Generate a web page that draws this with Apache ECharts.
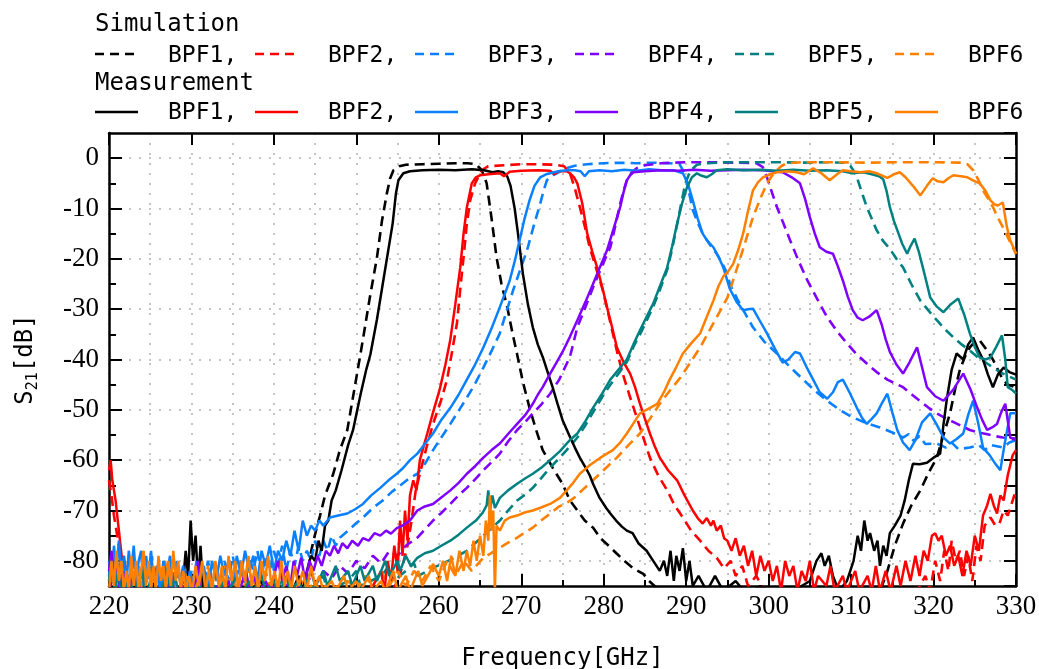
<!DOCTYPE html>
<html><head><meta charset="utf-8">
<script src="https://cdn.jsdelivr.net/npm/echarts@6/dist/echarts.min.js"></script>
<style>html,body{margin:0;padding:0;background:#fff}#c{width:1039px;height:669px}</style>
</head><body><div id="c"></div><script>
// ---- tick labels / axis ranges ----
const xMin = 220, xMax = 330, xStep = 10;
const yMin = -85, yMax = 5;
const yMajorTicks = [0, -10, -20, -30, -40, -50, -60, -70, -80];
const yMinorTicks = [-5, -15, -25, -35, -45, -55, -65, -75];
const xTitle = 'Frequency[GHz]';
const legendNames = ['BPF1,', 'BPF2,', 'BPF3,', 'BPF4,', 'BPF5,', 'BPF6'];
const colors = ['#000000', '#ff0000', '#0a80ff', '#8000ff', '#008080', '#ff8000'];

// ---- Simulation (dashed) ----
const sim1 = [[243.5,-88],[244,-84],[244.4,-79],[244.8,-76],[245.2,-73.4],[245.6,-71],[246.2,-67],[247.2,-62.7],[248,-58],[248.9,-54],[249.8,-45.5],[250.8,-36],[251.6,-28],[252.5,-19.7],[253.1,-12.5],[253.7,-7],[254.1,-4],[254.5,-2.4],[255.2,-1.6],[256,-1.3],[258,-1.2],[260,-1.1],[262,-1.0],[263.5,-1.0],[264.5,-1.2],[265.1,-2.2],[265.5,-3.5],[265.8,-5],[266.4,-12],[267,-19.7],[267.6,-25],[268.3,-29.6],[268.9,-34.5],[269.5,-39],[270.2,-44.5],[271,-49.6],[271.8,-54],[272.6,-58],[273.8,-61.5],[275,-64.7],[275.9,-68],[276.8,-70],[277.7,-72],[278.7,-73.4],[279.6,-75.5],[280.6,-77],[281.6,-78.6],[282.5,-80],[283.6,-81.5],[284.8,-82.6],[285.5,-84],[286.5,-85.5],[288,-87],[300,-88],[310,-88],[313.5,-86],[314.3,-82.6],[315.3,-77],[316.3,-72.6],[317.3,-69],[318.4,-66],[319.4,-62.5],[320.4,-59.5],[321.2,-55],[322,-50.7],[322.6,-46],[323.2,-42],[323.8,-39.5],[324.4,-37.6],[325,-36.5],[325.6,-36.2],[326.4,-38],[327.2,-40],[327.8,-42],[328.4,-44],[329,-45],[330,-45.5]];
const sim2 = [[220,-64],[220.3,-67],[220.6,-71],[221,-75],[221.4,-79],[221.8,-82],[222.3,-86],[223,-88],[250,-88],[254,-87],[255,-84],[255.6,-81],[256.2,-77],[256.7,-72],[257.2,-66],[257.7,-62.7],[258.5,-57.5],[259.3,-52.8],[260.2,-48.5],[261,-44],[261.6,-38.5],[262.2,-32.8],[262.6,-26],[263,-19.7],[263.4,-13],[263.8,-8.4],[264.4,-5],[265.2,-2.4],[266,-1.6],[268,-1.4],[270,-1.2],[272,-1.2],[274,-1.3],[275.2,-1.6],[275.9,-3],[276.5,-6],[277.1,-9.7],[277.7,-13.5],[278.3,-17.7],[279.1,-22],[279.9,-26.3],[280.5,-30.5],[281.1,-34.8],[281.7,-39],[282.3,-42.8],[283.1,-47],[284,-51.5],[284.8,-55.5],[285.6,-59.5],[286.6,-63],[287.7,-66],[288.6,-69],[289.6,-71.4],[290.6,-74],[291.7,-76],[292.7,-78],[293.7,-79.4],[294.6,-81.5],[295.4,-80],[296,-83],[296.8,-81],[297.5,-85],[298.5,-83],[299.5,-86],[301,-88],[315,-88],[318,-86],[319,-83],[319.6,-86],[320.2,-80],[320.8,-84],[321.3,-78],[321.8,-82],[322.2,-76],[322.7,-80],[323.2,-78],[323.7,-83],[324.2,-79],[324.7,-84],[325.2,-77],[325.7,-80],[326.2,-73],[326.9,-71.4],[327.5,-73],[328,-72.6],[328.5,-70],[329,-71],[329.6,-68],[330,-66]];
const sim3 = [[220,-83],[220.4,-79],[220.8,-85],[221.2,-80],[221.6,-86],[222,-81],[222.4,-84],[222.8,-79],[223.2,-85],[223.6,-81],[224,-86],[224.4,-80],[224.8,-84],[225.2,-79],[225.6,-85],[226,-82],[226.4,-86],[226.8,-81],[227.2,-84],[227.6,-80],[228,-86],[228.4,-82],[228.8,-85],[229.2,-81],[229.6,-86],[230,-82],[230.5,-86],[231,-81],[231.5,-85],[232,-80],[232.5,-84],[233,-81],[233.5,-86],[234,-80],[234.5,-84],[235,-79],[235.5,-83],[236,-80],[236.5,-85],[237,-79],[237.5,-82],[238,-78],[238.5,-83],[239,-79],[239.5,-82],[240,-78],[240.5,-81],[241,-77],[241.5,-82],[242,-78],[242.5,-81],[243,-77],[243.5,-80],[244,-78],[244.5,-80],[245,-76],[245.5,-79],[246,-76],[246.5,-78],[247,-75],[247.5,-77],[248,-75.4],[249,-74],[250,-72.5],[250.8,-71.4],[252,-69.5],[253.2,-68],[254.3,-66.3],[255.5,-64.8],[256.5,-63.5],[257.4,-62.7],[258.4,-60.5],[259.3,-58],[260.3,-55.5],[261.4,-52.8],[262.4,-50.2],[263.4,-47.6],[264.4,-44.8],[265.4,-41.6],[266.4,-38.3],[267.4,-34.8],[268.2,-30.5],[269,-26.3],[269.8,-22.5],[270.7,-18.3],[271.5,-13.5],[272.3,-9],[272.7,-6.5],[273.1,-4.4],[273.7,-3.5],[274.3,-3],[275,-2.4],[275.5,-2],[276.5,-1.5],[278,-1.2],[280,-1.0],[282,-0.9],[284,-1.0],[286,-0.9],[288,-1.0],[289.2,-1.2],[289.8,-3],[290.3,-6.5],[290.8,-10.3],[291.4,-12.8],[292,-15],[292.8,-17],[293.7,-19],[294.4,-21],[295,-23],[295.3,-25],[296.2,-28],[297.2,-31],[298.1,-33.6],[299.5,-36.5],[301,-38.8],[302.6,-41.5],[304.2,-44],[305.6,-46.2],[307.1,-48.2],[308.6,-50],[310.2,-51.5],[311.8,-52.6],[313.5,-53.5],[315,-54.5],[316.3,-55.5],[317,-54.8],[317.6,-56.2],[318.3,-55.2],[319,-56.8],[320.4,-56.7],[321.5,-57.5],[322.2,-56.5],[323,-57.8],[324.4,-57.5],[325.5,-57],[326.2,-58],[327,-57],[328.4,-57.5],[329.2,-56.5],[330,-56]];
const sim4 = [[220,-86],[220.5,-83],[221,-87],[222,-85],[222.5,-88],[225,-86],[226,-88],[230,-86],[231,-88],[235,-86],[236,-88],[240,-85],[240.5,-87],[242,-84],[242.5,-86],[244,-83],[245,-85],[246,-82],[247,-83.5],[248,-81],[249,-82.5],[250,-80],[251,-81.5],[252,-79],[253,-80.5],[254,-78],[255,-79],[256,-77],[257.4,-75.4],[258.3,-73.8],[259.3,-72],[260.3,-70.5],[261.4,-68.7],[262.4,-67],[263.4,-65.5],[264.4,-63.8],[265.4,-62],[266.4,-60.4],[267.4,-58.7],[268.4,-56.3],[269.5,-54],[270.5,-52.4],[271.4,-50.7],[272.5,-48.8],[273.5,-46.8],[274.6,-44],[275.9,-39.5],[276.8,-33.6],[277.8,-29.5],[278.7,-25.7],[279.7,-21.8],[280.8,-17.7],[281.4,-13.5],[282,-9],[282.4,-6.5],[282.8,-4.4],[283.4,-2.8],[284,-2],[285,-1.4],[287,-1.0],[290,-0.8],[293,-0.8],[296,-0.9],[298.5,-1.0],[299.3,-1.8],[299.8,-3.8],[300.4,-6.8],[301,-9.7],[301.8,-13],[302.6,-16.3],[303.6,-20.3],[304.7,-24.3],[305.9,-28],[307.1,-31.6],[308.3,-34.4],[309.5,-36.8],[310.7,-39],[311.9,-40.8],[313.1,-42.5],[314.4,-44],[315.4,-44.8],[316.3,-45.5],[317.4,-47],[318.4,-48.3],[319.4,-49.6],[320.4,-50.7],[321.6,-51.8],[322.5,-52.5],[323.5,-53.3],[324.4,-54],[325.4,-54.5],[326.4,-54.8],[327.4,-55.2],[328.4,-55.5],[330,-55.7]];
const sim5 = [[220,-87],[221,-85],[221.5,-88],[224,-86],[225,-88],[230,-87],[233,-85],[233.5,-88],[240,-86],[241,-84],[241.5,-87],[245,-85],[246,-83],[246.5,-86],[249,-84],[250,-82],[250.5,-85],[253,-83],[254,-81],[254.5,-84],[256,-82],[257,-80.5],[257.5,-83],[259.3,-81.4],[261.4,-79.8],[263.4,-78],[265.4,-75],[267.4,-72],[268.4,-70],[269.5,-68],[270.5,-66.8],[271.4,-65.5],[272.5,-63.4],[273.5,-61.5],[274.5,-59.8],[275.5,-58],[276.8,-55.5],[277.8,-53],[278.7,-50.5],[279.8,-47.5],[280.8,-45],[281.8,-42.8],[282.8,-40.5],[283.6,-37.5],[284.4,-35],[285.2,-32.3],[286,-29.5],[286.8,-26.2],[287.7,-22.2],[288.3,-18],[288.9,-13.2],[289.4,-9],[289.9,-5],[290.5,-2.5],[291.3,-1.3],[292.5,-1.0],[295,-0.8],[298,-0.8],[301,-0.8],[304,-0.9],[307,-0.8],[309.2,-0.9],[309.9,-1.5],[310.3,-2.5],[310.7,-3.8],[311.3,-6.8],[311.9,-9.7],[312.5,-12],[313.1,-14.3],[313.9,-16.5],[314.7,-18],[315.5,-20],[316.3,-21.7],[317.3,-25],[318.4,-28.3],[319.4,-30.3],[320.4,-32.2],[321.4,-34],[322.4,-35.6],[323.4,-37],[324.4,-38.2],[325.4,-39.6],[326.5,-40.8],[327.4,-41.8],[328.4,-42.8],[330,-44]];
const sim6 = [[220,-84],[220.4,-80],[220.8,-86],[221.2,-81],[221.6,-85],[222,-80],[222.4,-86],[222.8,-82],[223.2,-85],[223.6,-81],[224,-86],[224.4,-82],[224.8,-86],[225.2,-81],[225.6,-85],[226,-82],[226.4,-86],[226.8,-80],[227.2,-84],[227.6,-81],[228,-86],[228.4,-82],[228.8,-85],[229.2,-81],[229.6,-86],[230,-83],[230.5,-86],[231,-82],[231.5,-86],[232,-81],[232.5,-85],[233,-82],[233.5,-86],[234,-81],[234.5,-85],[235,-82],[235.5,-86],[236,-82],[236.5,-85],[237,-81],[237.5,-86],[238,-83],[238.5,-86],[239,-82],[239.5,-85],[240,-83],[241,-86],[241.5,-83],[242.5,-86],[243,-83],[244,-86],[245,-84],[245.5,-86],[247,-84],[248,-86],[249,-84],[250,-86],[251,-83],[252,-85],[253,-82],[254,-85],[255,-82],[256,-85],[257,-82],[258,-84],[259,-81],[260,-84],[261,-80],[262,-83],[263,-80],[264,-82],[265.4,-79.4],[266.4,-78.4],[267.4,-77.4],[268.4,-76.4],[269.5,-75.4],[270.4,-74.4],[271.4,-73.4],[272.4,-72],[273.5,-70.6],[274.5,-69.3],[275.5,-68.5],[276.4,-67.5],[277.5,-65.8],[278.7,-64],[280.1,-61.8],[281.6,-59.5],[283,-57],[284.4,-54.7],[285.6,-51.8],[286.8,-48.8],[288,-46.2],[289.3,-43.6],[290.5,-40.6],[291.7,-37.6],[292.7,-34.6],[293.7,-31.6],[294.4,-29.5],[295,-27.7],[295.6,-24.7],[296.2,-21.7],[297.2,-16.5],[298.1,-11.7],[299,-8],[299.8,-5],[300.4,-3.5],[301,-2.4],[301.6,-1.5],[302.2,-1.0],[304,-0.8],[308,-0.8],[312,-0.9],[316,-0.8],[320,-0.8],[323.5,-0.9],[324.1,-1.2],[324.8,-2.4],[325.4,-4.2],[326,-6.4],[326.6,-8],[327.2,-9.7],[327.8,-11.8],[328.4,-13.7],[329,-15.7],[329.6,-17.7],[330,-19]];

// ---- Measurement (solid) ----
const meas1 = [[220,-87],[222,-88],[225,-86],[226,-83],[226.5,-87],[228,-88],[229,-84],[229.3,-78],[229.6,-83],[229.9,-72],[230.2,-80],[230.5,-75],[230.8,-84],[231.1,-77],[231.4,-85],[232,-88],[235,-87],[237,-86],[238.5,-84],[239,-87],[241,-88],[242.5,-85],[243,-83],[243.5,-86],[244,-82],[244.5,-79],[245,-80],[245.4,-76],[245.8,-78],[246.2,-73],[246.6,-72],[247,-68],[247.5,-66],[248.2,-62],[249,-57],[249.6,-54],[250.5,-47],[251.2,-42],[251.7,-39],[252.5,-32],[253.2,-25],[253.8,-19],[254.4,-13],[254.8,-7],[255.1,-4.4],[255.7,-3],[256.5,-2.6],[258,-2.4],[260,-2.3],[262,-2.4],[264,-2.2],[265.5,-2.4],[266.5,-2.8],[267.2,-2.6],[267.8,-2.8],[268.3,-3.6],[268.7,-5.5],[269.2,-10],[269.6,-15],[270.2,-23],[270.8,-29],[271.4,-33.6],[272,-37],[272.6,-39.5],[273.2,-42.5],[273.8,-45.5],[274.4,-48.8],[275,-52],[275.8,-55],[276.5,-57.5],[277.1,-59.5],[277.8,-61.5],[278.3,-63],[278.7,-64.7],[279.5,-67.5],[280.3,-69.5],[280.8,-70.6],[281.5,-72],[282.2,-73.2],[282.8,-74],[283.5,-74.5],[284.2,-76.5],[285.2,-78],[286,-80],[286.8,-82],[287.3,-80],[287.7,-83],[288.1,-78],[288.5,-84],[288.8,-79],[289.2,-82],[289.6,-77.5],[290,-84],[290.4,-80],[290.8,-85],[291.5,-83],[292.5,-86],[293.5,-83],[294.5,-86],[296,-84],[297.5,-87],[299,-85],[301,-87],[303,-86],[305,-84],[305.8,-80],[306.4,-78.5],[306.8,-81],[307.3,-79],[307.8,-83],[308.5,-86],[309.5,-84],[310.3,-80],[310.8,-75],[311.2,-78],[311.6,-72],[312,-76],[312.3,-74.5],[312.8,-78],[313.2,-76],[313.5,-81],[313.9,-77],[314.3,-79],[314.7,-74.5],[315.3,-73],[316,-71],[316.5,-68],[317,-64],[317.5,-60.7],[318.3,-60.8],[319.2,-60.5],[320,-59.5],[320.8,-58.7],[321.2,-53],[321.6,-48],[322.2,-42],[322.8,-38.8],[323.6,-40],[324.2,-37],[324.8,-35.6],[325.4,-38],[326,-40],[326.6,-43],[327.2,-45.5],[327.8,-43],[328.5,-41.6],[329.2,-42.5],[330,-43]];
const meas2 = [[220,-62],[220.2,-60],[220.4,-64],[220.6,-66],[220.8,-68],[221,-71],[221.2,-74],[221.4,-77],[221.6,-80],[221.8,-79],[222.1,-83],[222.5,-86],[224,-88],[235,-88],[245,-87],[248,-86],[250,-87],[252,-85],[253,-82],[253.4,-86],[253.8,-80],[254.2,-84],[254.6,-77],[255,-82],[255.3,-72],[255.6,-79],[255.9,-70],[256.2,-76],[256.5,-67],[256.9,-64],[257.3,-66],[257.7,-60],[258.2,-57],[258.6,-54.7],[259.3,-50.5],[260.1,-46],[260.8,-41],[261.4,-36],[262,-29],[262.6,-21.7],[263,-15],[263.4,-9.8],[264,-5],[264.5,-3.8],[265,-3.4],[266,-3.2],[267.4,-3],[267.9,-3.6],[268.6,-2.7],[270,-2.5],[272,-2.4],[273.5,-2.5],[274,-3.2],[274.5,-2.6],[275.5,-2.6],[275.9,-3],[276.4,-3.8],[276.8,-5],[277.4,-9],[278,-15],[278.6,-18.5],[279.2,-21.7],[279.8,-25.5],[280.4,-29.6],[281,-33.5],[281.6,-37.6],[282.4,-40.5],[283.2,-42.8],[283.8,-45.5],[284.4,-48.8],[285,-51.8],[285.6,-54.7],[286.2,-57.3],[286.8,-59.5],[287.8,-62],[288.9,-64],[289.8,-67],[290.8,-70],[291.4,-71.5],[292,-72.6],[292.5,-71.5],[293,-73],[293.3,-72],[293.7,-74],[294.2,-73],[294.6,-75.5],[295,-76],[295.5,-78],[296,-75.5],[296.5,-79],[297,-77],[297.5,-81],[298,-78],[298.5,-83],[299,-79],[299.5,-82],[300,-80],[300.5,-84],[301,-81],[301.5,-86],[302,-80],[302.5,-83],[303,-81],[303.5,-86],[304,-82],[304.5,-84],[305,-80],[305.5,-86],[306,-83],[307,-85],[307.5,-81],[308,-86],[309,-83],[309.5,-86],[310.5,-82],[311,-86],[312,-83],[312.5,-86],[313,-81],[313.5,-86],[314.2,-82],[314.8,-86],[315.5,-81],[316,-85],[316.6,-80],[317.2,-84],[317.8,-79],[318.3,-83],[318.8,-78],[319.3,-80],[319.8,-75],[320.2,-74.5],[320.6,-76],[321,-75],[321.5,-79],[322,-77],[322.5,-81],[323,-79],[323.5,-83],[324,-78],[324.5,-81],[325,-75],[325.5,-78],[326,-71],[326.5,-69],[326.9,-66.7],[327.3,-69],[327.7,-70.6],[328.1,-67],[328.5,-68],[329,-63],[329.6,-59],[330,-58]];
const meas3 = [[220,-80],[220.3,-84],[220.6,-77],[220.9,-82],[221.2,-76],[221.5,-83],[221.8,-79],[222.1,-85],[222.4,-78],[222.7,-82],[223,-77],[223.3,-84],[223.6,-80],[223.9,-78],[224.2,-85],[224.5,-79],[224.8,-83],[225.1,-78],[225.4,-84],[225.8,-81],[226.2,-86],[226.6,-80],[227,-83],[227.4,-79],[227.8,-85],[228.2,-80],[228.6,-84],[229,-81],[229.4,-86],[229.8,-82],[230.2,-85],[230.6,-80],[231,-84],[231.5,-81],[232,-86],[232.5,-80],[233,-84],[233.5,-79],[234,-83],[234.5,-80],[235,-85],[235.5,-79],[236,-83],[236.5,-78],[237,-82],[237.5,-79],[238,-84],[238.5,-78],[239,-81],[239.5,-77],[240,-82],[240.5,-78],[241,-80],[241.5,-76],[242,-79],[242.5,-74],[243,-78],[243.5,-72],[244,-75],[244.5,-73],[245,-74],[245.5,-72],[246,-73],[246.8,-71.4],[247.8,-71],[248.9,-70.6],[249.8,-69.8],[250.8,-68.7],[251.8,-67],[252.9,-65.5],[253.9,-64],[254.9,-62.7],[255.7,-61.5],[256.5,-60],[257.4,-58.7],[258.3,-56.8],[259.3,-54.7],[260.3,-52],[261.4,-49.6],[262.4,-47],[263.4,-44],[264.4,-41],[265.4,-37.6],[266.4,-33.8],[267.4,-29.6],[268,-27],[268.6,-24.3],[269.2,-20.5],[269.8,-16.3],[270.4,-12],[271,-8.4],[271.6,-5.5],[272.3,-3.8],[273,-3.2],[273.5,-3],[274.5,-2.6],[275.5,-2.4],[276.5,-2.4],[277.2,-2.6],[277.7,-3.6],[278.2,-2.6],[279.5,-2.4],[281,-2.6],[282.5,-2.3],[284,-2.5],[285.5,-2.2],[287,-2.4],[288.5,-2.4],[289.6,-3],[290.2,-5],[290.8,-8.4],[291.4,-12],[292,-15],[292.6,-16.5],[293.3,-17.7],[293.9,-19.5],[294.5,-21.7],[295.3,-26],[296.1,-28.5],[296.9,-30.2],[297.5,-30],[298.1,-29.9],[299,-32.5],[299.8,-34.8],[300.8,-38],[301.7,-40.6],[302.4,-40],[303.2,-38.5],[303.8,-38.8],[304.6,-41.5],[305.4,-44],[306.2,-46.5],[307.1,-47.8],[307.8,-46.5],[308.4,-44.5],[309,-44],[309.8,-46.5],[310.7,-49.6],[311.3,-51.5],[311.9,-52.8],[312.5,-51.8],[313.1,-50.7],[313.8,-48.5],[314.4,-46.8],[315,-50.5],[315.6,-54],[316.3,-56.5],[317.1,-58],[317.8,-56],[318.6,-52.5],[319.6,-50.7],[320.4,-53],[321.2,-55.5],[322,-56.7],[322.8,-55.8],[323.6,-54.7],[324.2,-51],[324.8,-48.2],[325.4,-52.5],[326,-57.5],[326.8,-59],[327.4,-60.5],[328.1,-62],[328.6,-57],[329.3,-50.7],[330,-50.7]];
const meas4 = [[220,-82],[220.3,-78],[220.6,-84],[220.9,-80],[221.3,-86],[221.7,-82],[222.1,-86],[222.5,-83],[223,-87],[223.5,-84],[224,-87],[225,-85],[225.5,-88],[227,-86],[227.5,-83],[228,-87],[229,-85],[229.5,-88],[230.5,-84],[230.8,-80],[231.2,-86],[232,-88],[233,-85],[233.5,-87],[234.5,-84],[235,-87],[236,-85],[236.6,-82],[237.1,-86],[237.6,-83],[238.2,-87],[239,-84],[239.5,-86],[240,-83],[240.5,-80],[241,-84],[241.5,-81],[242,-85],[242.4,-80],[242.8,-83],[243.3,-79.4],[243.8,-84],[244.3,-80],[244.8,-82],[245.3,-79],[245.8,-81],[246.3,-78],[246.8,-79],[247.3,-77],[247.8,-78.5],[248.3,-76.5],[248.9,-77.5],[249.5,-76],[250.2,-77],[250.8,-75.5],[251.5,-76],[252.2,-74.5],[252.9,-75],[253.6,-74],[254.2,-74.6],[254.9,-73.5],[255.6,-73],[256.5,-72],[257.4,-70],[258.3,-69.2],[259.3,-68.7],[260.3,-67.4],[261.4,-66],[262.4,-64.5],[263.4,-62.7],[264.4,-61.2],[265.4,-59.5],[266.4,-58],[267.4,-56.7],[268.4,-54.8],[269.5,-52.8],[270.5,-51],[271.4,-48.8],[272,-47],[272.6,-45.5],[273.5,-42.8],[274.2,-40.8],[275,-38.5],[275.9,-35.5],[276.8,-32.2],[277.8,-28.5],[278.7,-25],[279.5,-21.8],[280.4,-18.3],[281.2,-14],[282,-9.7],[282.4,-6.8],[282.8,-4.4],[283.2,-3.4],[283.6,-2.8],[285,-2.6],[287,-2.4],[289,-2.5],[291,-2.3],[293,-2.5],[295,-2.4],[297,-2.3],[299.3,-2.4],[300.5,-2.6],[301.7,-2.8],[302.8,-3.8],[303.8,-5],[304.4,-8],[305,-11.7],[305.6,-15],[306.2,-17.7],[307,-18.6],[307.8,-19],[308.4,-21.5],[309,-24.3],[309.6,-27.5],[310.2,-30.2],[310.8,-31.7],[311.4,-32.2],[312.2,-31.5],[313.1,-30.2],[313.7,-33],[314.2,-36],[314.7,-38.5],[315.5,-41],[316.3,-42.8],[317.1,-40.5],[318,-37.6],[318.6,-41.5],[319.2,-45.5],[320.2,-47.3],[321.2,-48.2],[322.4,-46],[323.6,-42.8],[324.5,-46],[325.3,-49.6],[325.9,-52],[326.5,-54],[327.1,-53.5],[327.7,-52.8],[328.2,-50.5],[328.7,-48.8],[329.3,-55.5],[330,-56]];
const meas5 = [[220,-84],[220.3,-80],[220.7,-86],[221.1,-82],[221.5,-87],[222,-84],[222.5,-87],[223,-83],[223.5,-86],[224,-82],[224.5,-87],[225,-84],[225.5,-88],[226.5,-85],[227,-82],[227.5,-86],[228,-83],[228.5,-87],[229.5,-85],[230,-88],[231,-85],[231.5,-87],[232.5,-84],[233,-87],[234,-84],[234.5,-86],[235.5,-83],[236,-87],[237,-84],[237.5,-86],[238.5,-83],[239,-86],[240,-84],[240.5,-87],[241.5,-83],[242,-86],[243,-84],[243.5,-86],[244.5,-82],[245,-85],[246,-82],[246.5,-85],[247.5,-81],[248,-84],[249,-82],[249.5,-85],[250.5,-81],[251,-84],[252,-81],[252.5,-84],[253.5,-80],[254,-83],[255,-80],[255.3,-82],[256,-79],[256.6,-81],[257.4,-79.4],[258.3,-78.5],[259.3,-78],[260.3,-77],[261.4,-76],[262.4,-74.8],[263.4,-73.4],[264.5,-72],[265.3,-70.5],[265.8,-69],[266,-66],[266.2,-70],[266.5,-67],[266.8,-69.5],[267.4,-67.5],[268.4,-66],[269.5,-64.7],[270.5,-63.6],[271.4,-62.7],[272.5,-61.4],[273.5,-60],[274.7,-58.2],[275.9,-56],[276.8,-54.7],[277.8,-52.2],[278.7,-49.6],[279.8,-46.8],[280.8,-44],[281.8,-42],[282.8,-40],[283.6,-37],[284.4,-34.2],[285.2,-31.5],[286,-28.9],[286.8,-25.5],[287.7,-21.7],[288.3,-17.5],[288.9,-13],[289.5,-9],[290.1,-5.8],[290.7,-3.8],[291.3,-3],[291.9,-3.5],[292.5,-3.8],[293.1,-3.2],[293.7,-2.4],[295,-2.2],[297,-2.4],[299,-2.3],[301,-2.5],[303,-2.3],[305,-2.5],[307,-2.4],[309,-2.6],[310.2,-3],[311.5,-2.8],[312.5,-3.2],[313.4,-3.6],[313.9,-4.2],[314.3,-6.5],[314.7,-9.7],[315.2,-12.5],[315.6,-14.3],[316.2,-17],[316.8,-19],[317.2,-17.5],[317.7,-16],[318.2,-18.5],[318.7,-21.7],[319.2,-25],[319.6,-27.7],[320.4,-29.5],[321.2,-30.6],[322.1,-29],[323,-27.9],[323.7,-31],[324.4,-34.8],[325,-37.5],[325.6,-39.6],[326.3,-40],[326.9,-39.6],[327.6,-37.5],[328.3,-35.2],[328.7,-40],[329,-45.5],[329.5,-46],[330,-46.8]];
const meas6 = [[220,-86],[220.3,-80],[220.6,-85],[220.9,-78],[221.2,-84],[221.5,-80],[221.8,-86],[222.1,-82],[222.4,-86],[222.7,-79],[223,-85],[223.3,-80],[223.6,-86],[223.9,-82],[224.2,-78],[224.5,-85],[224.8,-80],[225.1,-86],[225.4,-81],[225.7,-86],[226,-79],[226.3,-84],[226.6,-81],[226.9,-86],[227.2,-80],[227.5,-85],[227.8,-78],[228.1,-84],[228.4,-80],[228.7,-86],[229,-82],[229.3,-86],[229.7,-83],[230.1,-86],[230.5,-81],[230.9,-85],[231.3,-80],[231.7,-86],[232.1,-82],[232.5,-86],[232.9,-80],[233.3,-85],[233.7,-81],[234.1,-86],[234.5,-79],[234.9,-84],[235.3,-80],[235.7,-86],[236.1,-80],[236.5,-84],[236.9,-79],[237.3,-85],[237.7,-81],[238.1,-86],[238.5,-80],[238.9,-84],[239.3,-79],[239.7,-85],[240.1,-82],[240.5,-86],[240.9,-80],[241.3,-85],[241.7,-82],[242.1,-86],[242.5,-81],[243,-85],[243.5,-82],[244,-86],[244.5,-81],[245,-85],[245.5,-83],[246,-86],[247,-84],[247.5,-86],[248.5,-83],[249,-86],[250,-84],[250.5,-86],[251.5,-83],[252,-86],[253,-84],[253.5,-86],[254.5,-82],[255,-86],[256,-83],[256.5,-86],[257.5,-82],[258,-85],[259,-82],[259.3,-80.6],[260,-83],[260.5,-80],[261,-84],[261.5,-79],[262,-83],[262.5,-78],[263,-82],[263.4,-78],[263.8,-81],[264.2,-76],[264.6,-80],[265,-75],[265.4,-79],[265.7,-72],[266,-76],[266.2,-67],[266.4,-74],[266.6,-70],[266.8,-86],[267,-73],[267.4,-74],[268,-72],[268.6,-71.4],[269.5,-71],[270.4,-70.4],[271.4,-70],[272.4,-69.4],[273.5,-68.7],[274.7,-67.5],[275.5,-66],[276.3,-64.5],[277.1,-62.7],[278.3,-61],[279.6,-59.5],[280.3,-58.8],[281.1,-58],[282,-56.5],[282.8,-54.7],[283.6,-52.7],[284.4,-50.7],[285.4,-49.8],[286.5,-48.8],[287.3,-46.5],[288,-44],[288.8,-41.5],[289.6,-38.8],[290.6,-36.8],[291.7,-34.8],[292.5,-31.5],[293.3,-28.3],[293.9,-25.5],[294.5,-23.5],[295.1,-22.5],[295.7,-21],[296.3,-18.3],[296.9,-15],[297.5,-10.5],[298.1,-6.4],[298.7,-4.8],[299.3,-3.8],[300.2,-3.2],[301,-2.8],[302.2,-2.6],[303.4,-2.8],[304.3,-3.2],[305.4,-2],[306.4,-3],[307.4,-4.4],[308.3,-3.2],[309,-2.4],[310,-2.6],[311.1,-2.8],[312.2,-2.6],[313.1,-3],[314.4,-3.9],[315.2,-3.2],[315.9,-2.8],[316.6,-3.8],[317.5,-5.5],[318.4,-7.4],[319.2,-5.5],[319.9,-4],[320.5,-4.6],[321.2,-4.8],[321.8,-4],[322.4,-3.4],[323.3,-3.6],[324.1,-3.8],[324.9,-4.5],[325.6,-5],[326.3,-6.5],[326.9,-8.4],[327.4,-9.2],[327.8,-9.4],[328.4,-8.8],[328.9,-13.7],[329.3,-16.3],[330,-19]];

const simData = [sim1, sim2, sim3, sim4, sim5, sim6];
const measData = [meas1, meas2, meas3, meas4, meas5, meas6];

const chart = echarts.init(document.getElementById('c'), null, {renderer: 'canvas'});

const gridStyle = {color: '#c4c4c4', width: 2, type: [2, 8]};
const labelFont = {fontFamily: '"Liberation Serif", "Times New Roman", serif', fontSize: 27, color: '#000'};
const monoFont = '"DejaVu Sans Mono", monospace';
const axisLineStyle = {color: '#000', width: 2.5};

const series = [];
simData.forEach((d, i) => series.push({
  name: 'Sim ' + legendNames[i], type: 'line', data: d, symbol: 'none', showSymbol: false,
  xAxisIndex: 0, yAxisIndex: 0, clip: true, animation: false, silent: true,
  lineStyle: {color: colors[i], width: 2.6, type: [10, 6]}
}));
measData.forEach((d, i) => series.push({
  name: 'Meas ' + legendNames[i], type: 'line', data: d, symbol: 'none', showSymbol: false,
  xAxisIndex: 0, yAxisIndex: 0, clip: true, animation: false, silent: true,
  lineStyle: {color: colors[i], width: 2.5, type: 'solid'}
}));

// legend drawn as graphic
const graphic = [];
graphic.push({type: 'text', left: 95, top: 13, style: {text: 'Simulation', font: '24px ' + monoFont, fill: '#000'}});
graphic.push({type: 'text', left: 95, top: 72, style: {text: 'Measurement', font: '24px ' + monoFont, fill: '#000'}});
legendNames.forEach((nm, i) => {
  const x0 = 95 + 160 * i;
  graphic.push({type: 'line', shape: {x1: x0, y1: 54, x2: x0 + 40, y2: 54},
    style: {stroke: colors[i], lineWidth: 2.6, lineDash: [9, 6]}});
  graphic.push({type: 'text', left: x0 + 73, top: 45, style: {text: nm, font: '23px ' + monoFont, fill: '#000'}});
  graphic.push({type: 'line', shape: {x1: x0, y1: 112, x2: x0 + 43, y2: 112},
    style: {stroke: colors[i], lineWidth: 2.6}});
  graphic.push({type: 'text', left: x0 + 73, top: 102, style: {text: nm, font: '23px ' + monoFont, fill: '#000'}});
});

chart.setOption({
  animation: false,
  backgroundColor: '#fff',
  grid: {left: 109, right: 23, top: 133, bottom: 83, containLabel: false, outerBoundsMode: 'none'},
  graphic: graphic,
  xAxis: [{
    type: 'value', min: xMin, max: xMax, interval: xStep, position: 'bottom',
    name: xTitle, nameLocation: 'middle', nameGap: 61,
    nameTextStyle: {fontFamily: monoFont, fontSize: 24, color: '#000'},
    axisLine: {show: true, onZero: false, lineStyle: axisLineStyle},
    axisTick: {show: true, inside: true, length: 12, lineStyle: {color: '#000', width: 2}},
    minorTick: {show: true, splitNumber: 2, length: 6, lineStyle: {color: '#000', width: 2}},
    axisLabel: Object.assign({margin: 7}, labelFont),
    splitLine: {show: true, lineStyle: gridStyle},
    minorSplitLine: {show: true, lineStyle: gridStyle}
  }, {
    type: 'value', min: xMin, max: xMax, interval: xStep, position: 'top',
    axisLine: {show: true, onZero: false, lineStyle: axisLineStyle},
    axisTick: {show: true, inside: true, length: 12, lineStyle: {color: '#000', width: 2}},
    axisLabel: {show: false}, splitLine: {show: false}
  }],
  yAxis: [{
    type: 'value', min: yMin, max: yMax, interval: 5, position: 'left',
    name: '{s|S}{sub|21}{s|[dB]}', nameLocation: 'middle', nameGap: 68, nameRotate: 90,
    nameTextStyle: {color: '#000', rich: {
      s: {fontFamily: monoFont, fontSize: 24, color: '#000', lineHeight: 30, verticalAlign: 'middle'},
      sub: {fontFamily: monoFont, fontSize: 15, color: '#000', lineHeight: 30, verticalAlign: 'bottom', padding: [12, 0, 0, 0]}
    }},
    axisLine: {show: true, onZero: false, lineStyle: axisLineStyle},
    axisTick: {show: true, inside: true, length: 13, customValues: yMajorTicks, lineStyle: {color: '#000', width: 2}},
    axisLabel: Object.assign({margin: 10, customValues: yMajorTicks}, labelFont),
    splitLine: {show: true, lineStyle: gridStyle}
  }, {
    type: 'value', min: yMin, max: yMax, interval: 5, position: 'left',
    axisLine: {show: false},
    axisTick: {show: true, inside: true, length: 7, customValues: yMinorTicks, lineStyle: {color: '#000', width: 2}},
    axisLabel: {show: false}, splitLine: {show: false}
  }, {
    type: 'value', min: yMin, max: yMax, interval: 5, position: 'right',
    axisLine: {show: true, onZero: false, lineStyle: axisLineStyle},
    axisTick: {show: true, inside: true, length: 12, lineStyle: {color: '#000', width: 2}},
    axisLabel: {show: false}, splitLine: {show: false}
  }],
  series: series
});
</script></body></html>
